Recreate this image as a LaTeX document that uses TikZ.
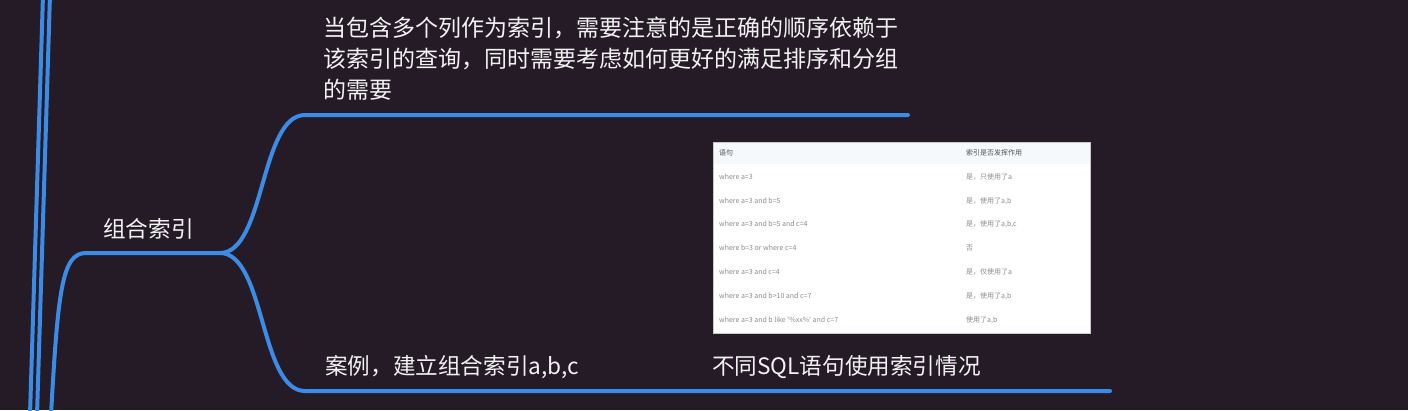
\documentclass[tikz,border=0pt]{standalone}
\usepackage{fontspec}
\setmainfont{Noto Sans CJK SC}
\definecolor{bg}{RGB}{37,27,39}
\definecolor{branch}{RGB}{58,140,230}
\definecolor{txt}{RGB}{242,242,242}
\definecolor{hdrbg}{RGB}{246,249,252}
\definecolor{hdrtxt}{RGB}{80,80,80}
\definecolor{celltxt}{RGB}{140,140,140}
\definecolor{tblline}{RGB}{200,200,200}
\tikzset{
  branchline/.style={draw=branch,line width=4pt,line cap=round},
  label/.style={text=txt,inner sep=0pt,anchor=base west},
  big/.style={label,font=\fontsize{23}{31}\selectfont},
  mid/.style={label,font=\fontsize{22.6}{28}\selectfont},
  cell/.style={inner sep=0pt,anchor=west,text=celltxt,font=\fontsize{7}{8}\selectfont},
  hcell/.style={cell,text=hdrtxt},
}
\begin{document}
\begin{tikzpicture}[x=1pt,y=-1pt]
\fill[bg] (0,0) rectangle (1408,410);
\useasboundingbox (0,0) rectangle (1408,410);

% left trunk lines
\coordinate (trA0) at (43,-5);
\coordinate (trA1) at (30,415);
\coordinate (trB0) at (50,-5);
\coordinate (trB1) at (37,415);
\draw[branchline,line cap=butt] (trA0) -- (trA1);
\draw[branchline,line cap=butt] (trB0) -- (trB1);

% main branch to 组合索引
\coordinate (root) at (51,415);
\coordinate (hstart) at (86,253);
\coordinate (fork) at (220,253);
\draw[branchline,line cap=butt] (root) .. controls (58,290) and (62,253) .. (hstart) -- (fork);

\node[mid] (main) at (103,237) {组合索引};

% upper sub-branch
\coordinate (upbend) at (305,115);
\coordinate (upend) at (908,115);
\draw[branchline] (fork) .. controls (265,253) and (260,115) .. (upbend) -- (upend);

% lower sub-branch
\coordinate (lowbend) at (305,391);
\coordinate (lowend) at (1110,391);
\draw[branchline] (fork) .. controls (265,253) and (260,391) .. (lowbend) -- (lowend);

% upper text
\node[big] (desc1) at (323,36) {当包含多个列作为索引，需要注意的是正确的顺序依赖于};
\node[big] (desc2) at (323,67) {该索引的查询，同时需要考虑如何更好的满足排序和分组};
\node[big] (desc3) at (323,98) {的需要};

% lower texts
\node[mid] (case) at (325,374) {案例，建立组合索引a,b,c};
\node[mid] (sqlcap) at (712,374) {不同SQL语句使用索引情况};

% table image
\node[draw=tblline,line width=0.6pt,fill=white,minimum width=377pt,minimum height=191pt,inner sep=0pt,anchor=north west] (table) at (713,142) {};
\fill[hdrbg] (713.5,142.5) rectangle (1089.5,164);
\node[hcell] (h1) at (719,153) {语句};
\node[hcell] (h2) at (966,153) {索引是否发挥作用};
\node[cell] (r1a) at (719,177) {where a=3};
\node[cell] (r1b) at (966,177) {是，只使用了a};
\node[cell] (r2a) at (719,201) {where a=3 and b=5};
\node[cell] (r2b) at (966,201) {是，使用了a,b};
\node[cell] (r3a) at (719,224) {where a=3 and b=5 and c=4};
\node[cell] (r3b) at (966,224) {是，使用了a,b,c};
\node[cell] (r4a) at (719,248) {where b=3 or where c=4};
\node[cell] (r4b) at (966,248) {否};
\node[cell] (r5a) at (719,272) {where a=3 and c=4};
\node[cell] (r5b) at (966,272) {是，仅使用了a};
\node[cell] (r6a) at (719,296) {where a=3 and b>10 and c=7};
\node[cell] (r6b) at (966,296) {是，使用了a,b};
\node[cell] (r7a) at (719,320) {where a=3 and b like \textquotesingle\%xx\%\textquotesingle{} and c=7};
\node[cell] (r7b) at (966,320) {使用了a,b};
\end{tikzpicture}
\end{document}
